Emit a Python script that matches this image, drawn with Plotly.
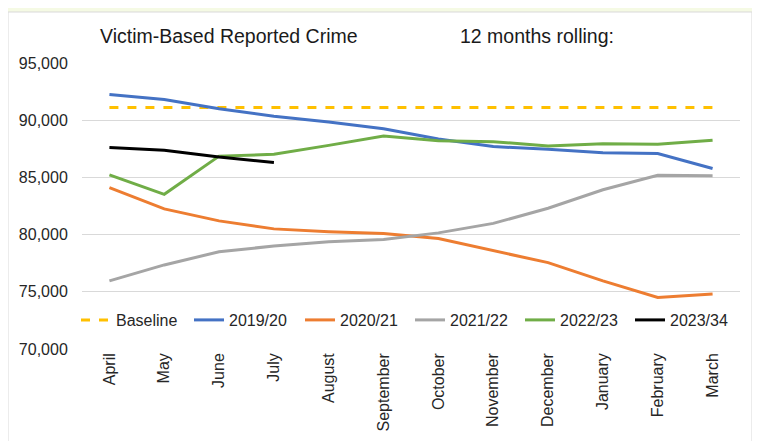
from plotly import graph_objects as go

months = ['April', 'May', 'June', 'July', 'August', 'September',
          'October', 'November', 'December', 'January', 'February', 'March']

baseline = [91100] * 12
y2019 = [92250, 91800, 91000, 90350, 89850, 89250, 88350, 87700, 87450, 87150, 87080, 85780]
y2020 = [84100, 82250, 81200, 80500, 80250, 80100, 79650, 78620, 77550, 75950, 74500, 74800]
y2021 = [75950, 77350, 78500, 79000, 79380, 79580, 80150, 80980, 82300, 83920, 85180, 85150]
y2022 = [85220, 83520, 86860, 87020, 87800, 88620, 88200, 88120, 87750, 87950, 87900, 88250]
y2023 = [87610, 87380, 86780, 86300]

FONT = "Liberation Sans, Arial, sans-serif"

# the page puts the figure 8px in from the top-left, so work in shifted pixels
OFF = 8
W, H = 760 - OFF, 441 - OFF
L, R, T, B = 82 - OFF, 740 - OFF, 63 - OFF, 349 - OFF
PW, PH = R - L, B - T


def px_x(x):
    return (x - OFF - L) / PW


def px_y(y):
    return (B - (y - OFF)) / PH


# series name, values, colour, dash, legend text start (px in the original)
series = [
    ('Baseline', baseline, '#FFC000', 'dash', 116),
    ('2019/20', y2019, '#4472C4', 'solid', 229),
    ('2020/21', y2020, '#ED7D31', 'solid', 340),
    ('2021/22', y2021, '#A5A5A5', 'solid', 450),
    ('2022/23', y2022, '#70AD47', 'solid', 560),
    ('2023/34', y2023, '#000000', 'solid', 670),
]

fig = go.Figure()
legends = {}
for i, (name, vals, colour, dash, text_x) in enumerate(series):
    key = 'legend' if i == 0 else f'legend{i + 1}'
    fig.add_trace(go.Scatter(
        x=months[:len(vals)], y=vals, name=name, mode='lines',
        line=dict(color=colour, width=3, dash=dash), legend=key,
    ))
    # one legend per series so the row spacing matches the original
    legends[key] = dict(
        x=px_x(text_x - 40), xanchor='left', y=px_y(320), yanchor='middle',
        bgcolor='rgba(0,0,0,0)', font=dict(size=16), borderwidth=0,
    )

fig.update_layout(
    width=W, height=H,
    margin={"l": L, "r": W - R, "t": T, "b": H - B, "autoexpand": False},
    paper_bgcolor='#F5FAE4',
    plot_bgcolor='white',
    font=dict(family=FONT, size=16, color='#262626'),
    showlegend=True,
    # white chart panel over the cream page
    shapes=[dict(
        type='rect', xref='paper', yref='paper',
        x0=px_x(8), x1=px_x(752), y0=-0.6, y1=px_y(12),
        fillcolor='white', line=dict(color='#D9D9D9', width=1), layer='below',
    )],
    annotations=[
        dict(text='Victim-Based Reported Crime', xref='paper', yref='paper',
             x=px_x(229), y=px_y(36), xanchor='center', yanchor='middle',
             showarrow=False, font=dict(size=19.5, color='#1a1a1a')),
        dict(text='12 months rolling:', xref='paper', yref='paper',
             x=px_x(537), y=px_y(36), xanchor='center', yanchor='middle',
             showarrow=False, font=dict(size=19.5, color='#1a1a1a')),
    ],
    **legends,
)

fig.update_xaxes(
    type='category', categoryorder='array', categoryarray=months,
    range=[-0.5, 11.5], tickangle=-90, showgrid=False, showline=False,
    ticks='', automargin=False,
)
fig.update_yaxes(
    range=[70000, 95000], dtick=5000, tickformat=',d',
    showgrid=True, gridcolor='#D9D9D9', gridwidth=1.3, zeroline=False,
    ticks='outside', ticklen=10, tickcolor='rgba(0,0,0,0)', automargin=False,
)

fig.write_html("out.html")
